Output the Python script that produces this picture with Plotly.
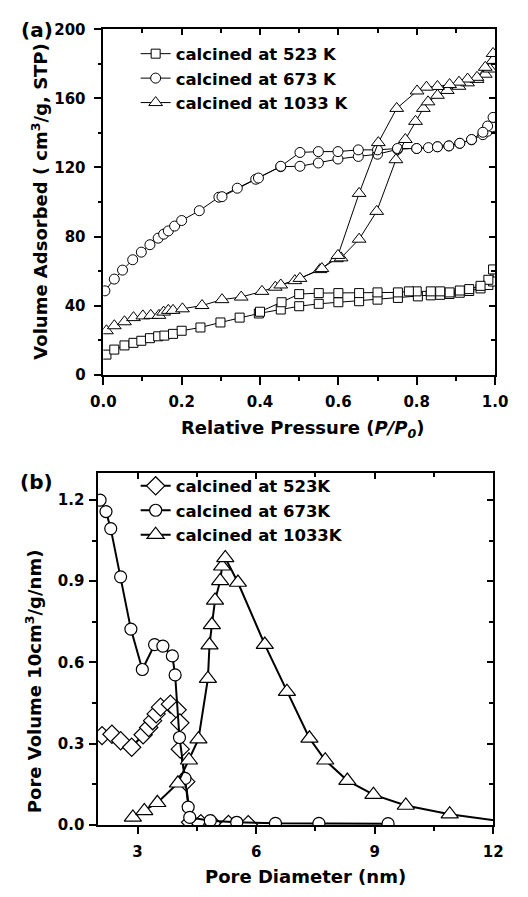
import plotly.graph_objects as go

# ---------------- Panel (a): N2 isotherms ----------------
p523_ads = [0.008,0.028,0.054,0.077,0.097,0.119,0.14,0.156,0.178,0.2,0.248,0.299,0.348,0.397,0.453,0.5,0.55,0.6,0.653,0.7,0.752,0.803,0.836,0.86,0.884,0.91,0.934,0.963,0.983,0.995]
v523_ads = [11.7,14.6,17,18.5,19.7,21.2,22.3,22.7,23.7,25.5,27.4,30.3,33.1,35.5,37.8,39.7,41.1,42,42.6,43.5,44.5,45.4,46,46.3,46.8,47.5,48.5,50,52,54]
p523_des = [0.995,0.983,0.963,0.934,0.91,0.884,0.86,0.836,0.8,0.78,0.752,0.7,0.653,0.6,0.55,0.5,0.455,0.4]
v523_des = [61,55,51.5,49.6,48.8,47.7,48.3,48.3,48.3,48.3,47.7,47.7,47.3,47.3,47.3,46.7,42,36.5]

p673_ads = [0.004,0.028,0.049,0.075,0.097,0.119,0.14,0.154,0.166,0.182,0.2,0.245,0.295,0.342,0.389,0.453,0.502,0.549,0.599,0.651,0.7,0.751,0.8,0.83,0.853,0.882,0.91,0.94,0.969,0.981,0.993]
v673_ads = [48.6,55.4,60.6,66.6,71,75.3,79.1,81.4,83.3,86.1,89.3,95,102.8,108,113.2,120.5,120.7,122.6,124.9,126.4,127.7,130.5,131,131.5,132,132.5,134,136,139,141,143.5]
p673_des = [0.995,0.981,0.969,0.94,0.91,0.882,0.853,0.8,0.751,0.7,0.651,0.599,0.549,0.502,0.453,0.396,0.303]
v673_des = [149,144,140.4,136.2,134,132.5,132,131,131,130.2,130.2,129.2,129.2,128.7,120.7,113.9,103.1]

p1033_ads = [0.008,0.028,0.054,0.077,0.101,0.121,0.142,0.154,0.166,0.178,0.202,0.252,0.303,0.352,0.405,0.439,0.489,0.553,0.595,0.607,0.653,0.698,0.747,0.771,0.797,0.817,0.829,0.853,0.878,0.908,0.93,0.954,0.975,0.987,0.995]
v1033_ads = [25.5,28.4,30.7,33.1,34.1,34.4,34.4,36.3,37.3,37.3,38.2,40.1,43.5,45,48.3,50.7,54.5,60.9,67.2,67.7,78.5,94.6,124.5,136.2,146.7,154.2,158,161.8,164.6,167,169,171,174,177,182]
p1033_des = [0.995,0.975,0.954,0.93,0.908,0.884,0.853,0.825,0.801,0.749,0.702,0.653,0.599,0.558,0.502,0.453]
v1033_des = [186,178,172.2,171.2,169.4,168,166.9,166.5,164.3,154.2,134.4,105,69.1,61.5,55.8,52]

# ---------------- Panel (b): pore size distributions ----------------
d523 = [2.1,2.35,2.57,2.85,3.14,3.28,3.38,3.47,3.58,3.83,4.0,4.07,4.08,4.22,4.34,4.6,4.9,5.3,5.8]
pv523 = [0.33,0.335,0.311,0.287,0.333,0.36,0.385,0.41,0.435,0.446,0.425,0.377,0.28,0.16,0.01,0.005,0.003,0.002,0.001]
d673 = [2.05,2.2,2.32,2.57,2.83,3.12,3.43,3.64,3.88,3.95,4.06,4.2,4.28,4.32,4.84,5.51,6.49,7.59,9.34]
pv673 = [1.199,1.157,1.094,0.916,0.723,0.574,0.666,0.66,0.624,0.554,0.323,0.172,0.066,0.028,0.016,0.01,0.006,0.006,0.005]
d1033 = [2.88,3.17,3.5,4.02,4.3,4.54,4.78,4.82,4.88,4.96,5.09,5.14,5.22,5.54,6.22,6.78,7.35,7.75,8.31,8.97,9.79,10.9,12.3]
pv1033 = [0.028,0.052,0.082,0.154,0.239,0.317,0.54,0.664,0.739,0.829,0.901,0.955,0.986,0.895,0.666,0.492,0.32,0.239,0.164,0.112,0.072,0.04,0.012]

labels_a = ["calcined at 523 K", "calcined at 673 K", "calcined at 1033 K"]
labels_b = ["calcined at 523K", "calcined at 673K", "calcined at 1033K"]

W, H = 528, 897
FONT = "DejaVu Sans"

def px_x(p):
    return p / W

def px_y(p):
    return 1 - p / H

fig = go.Figure()

mk_a = dict(color="white", line=dict(color="black", width=1))
fig.add_trace(go.Scatter(x=p523_ads + p523_des, y=v523_ads + v523_des, name=labels_a[0],
                         mode="lines+markers", line=dict(color="black", width=1),
                         marker=dict(symbol="square", size=9, **mk_a), xaxis="x", yaxis="y", legend="legend"))
fig.add_trace(go.Scatter(x=p673_ads + p673_des, y=v673_ads + v673_des, name=labels_a[1],
                         mode="lines+markers", line=dict(color="black", width=1),
                         marker=dict(symbol="circle", size=10, **mk_a), xaxis="x", yaxis="y", legend="legend"))
fig.add_trace(go.Scatter(x=p1033_ads + p1033_des, y=v1033_ads + v1033_des, name=labels_a[2],
                         mode="lines+markers", line=dict(color="black", width=1),
                         marker=dict(symbol="triangle-up", size=12, **mk_a), xaxis="x", yaxis="y", legend="legend"))

mk_b = dict(color="white", line=dict(color="black", width=1.2))
fig.add_trace(go.Scatter(x=d523, y=pv523, name=labels_b[0], mode="lines+markers",
                         line=dict(color="black", width=2),
                         marker=dict(symbol="diamond", size=14, **mk_b), xaxis="x2", yaxis="y2", legend="legend2"))
fig.add_trace(go.Scatter(x=d673, y=pv673, name=labels_b[1], mode="lines+markers",
                         line=dict(color="black", width=2),
                         marker=dict(symbol="circle", size=12, **mk_b), xaxis="x2", yaxis="y2", legend="legend2"))
fig.add_trace(go.Scatter(x=d1033, y=pv1033, name=labels_b[2], mode="lines+markers",
                         line=dict(color="black", width=2),
                         marker=dict(symbol="triangle-up", size=15, **mk_b), xaxis="x2", yaxis="y2", legend="legend2"))

# empty traces to carry the mirrored (top/right) axes
fig.add_trace(go.Scatter(x=[], y=[], xaxis="x3", yaxis="y3", showlegend=False))
fig.add_trace(go.Scatter(x=[], y=[], xaxis="x4", yaxis="y4", showlegend=False))

tickfont = dict(family=FONT, size=15, color="black", weight="bold")
dom_ax = [px_x(95), px_x(507)]
dom_ay = [px_y(373.3), px_y(20.7)]
dom_bx = [px_x(89.5), px_x(505)]
dom_by = [px_y(832.7), px_y(473.3)]

common = dict(showgrid=False, zeroline=False, showline=True, linecolor="black", linewidth=1.5,
              tickcolor="black", tickwidth=1.5)

fig.update_layout(
    width=W, height=H, margin=dict(l=0, r=0, t=0, b=0),
    paper_bgcolor="white", plot_bgcolor="white",
    font=dict(family=FONT, color="black"),
    xaxis=dict(domain=dom_ax, anchor="y", range=[0, 1], tickvals=[0, 0.2, 0.4, 0.6, 0.8, 1.0],
               ticktext=["0.0", "0.2", "0.4", "0.6", "0.8", "1.0"], ticks="outside", ticklen=8,
               minor=dict(dtick=0.1, ticks="outside", ticklen=4, tickcolor="black", tickwidth=1.5),
               tickfont=tickfont, ticklabelstandoff=4, **common),
    yaxis=dict(domain=dom_ay, anchor="x", range=[0, 200], dtick=40, ticks="outside", ticklen=8,
               minor=dict(dtick=20, ticks="outside", ticklen=4, tickcolor="black", tickwidth=1.5),
               tickfont=tickfont, ticklabelstandoff=5, **common),
    xaxis3=dict(overlaying="x", anchor="y3", side="top", range=[0, 1], dtick=0.2, ticks="inside", ticklen=6,
                minor=dict(dtick=0.1, ticks="inside", ticklen=4, tickcolor="black", tickwidth=1.5),
                showticklabels=False, **common),
    yaxis3=dict(overlaying="y", anchor="x3", side="right", range=[0, 200], dtick=40, ticks="inside", ticklen=6,
                minor=dict(dtick=20, ticks="inside", ticklen=4, tickcolor="black", tickwidth=1.5),
                showticklabels=False, **common),
    xaxis2=dict(domain=dom_bx, anchor="y2", range=[2, 12], tickvals=[3, 6, 9, 12], ticks="outside", ticklen=7,
                minor=dict(dtick=1.5, tick0=1.5, ticks="outside", ticklen=4, tickcolor="black", tickwidth=1.5),
                tickfont=tickfont, ticklabelstandoff=5, **common),
    yaxis2=dict(domain=dom_by, anchor="x2", range=[0, 1.3], tickvals=[0, 0.3, 0.6, 0.9, 1.2],
                ticktext=["0.0", "0.3", "0.6", "0.9", "1.2"], ticks="outside", ticklen=7,
                minor=dict(dtick=0.15, ticks="outside", ticklen=4, tickcolor="black", tickwidth=1.5),
                tickfont=tickfont, ticklabelstandoff=2, **common),
    xaxis4=dict(overlaying="x2", anchor="y4", side="top", range=[2, 12], tickvals=[3, 6, 9, 12], ticks="inside",
                ticklen=6, minor=dict(dtick=1.5, tick0=1.5, ticks="inside", ticklen=4, tickcolor="black", tickwidth=1.5),
                showticklabels=False, **common),
    yaxis4=dict(overlaying="y2", anchor="x4", side="right", range=[0, 1.3], tickvals=[0, 0.3, 0.6, 0.9, 1.2],
                ticks="inside", ticklen=6,
                minor=dict(dtick=0.15, ticks="inside", ticklen=4, tickcolor="black", tickwidth=1.5),
                showticklabels=False, **common),
    legend=dict(x=px_x(129), y=px_y(28), xanchor="left", yanchor="top", bgcolor="rgba(0,0,0,0)",
                font=dict(family=FONT, size=16.5, color="black", weight="bold"), tracegroupgap=0),
    legend2=dict(x=px_x(129), y=px_y(469), xanchor="left", yanchor="top", bgcolor="rgba(0,0,0,0)",
                 font=dict(family=FONT, size=16.5, color="black", weight="bold"), tracegroupgap=0),
    showlegend=True,
)

def ann(text, x, y, size, angle=0):
    fig.add_annotation(text=text, x=px_x(x), y=px_y(y), xref="paper", yref="paper",
                       xanchor="center", yanchor="middle", showarrow=False, textangle=angle,
                       font=dict(family=FONT, size=size, color="black", weight="bold"))

ann("(a)", 25, 21, 20)
ann("(b)", 25, 483, 20)
ann("Volume Adsorbed ( cm<sup>3</sup>/g, STP)", 28, 197, 18, -90)
ann("Pore Volume 10cm<sup>3</sup>/g/nm)", 22, 686, 18, -90)
ann("Relative Pressure (<i>P/P<sub>0</sub></i>)", 304, 429, 18)
ann("Pore Diameter (nm)", 308, 885, 18)

fig.write_html("out.html", config={"displayModeBar": False},
               post_script="document.body.style.margin='0';document.body.style.overflow='hidden';")
